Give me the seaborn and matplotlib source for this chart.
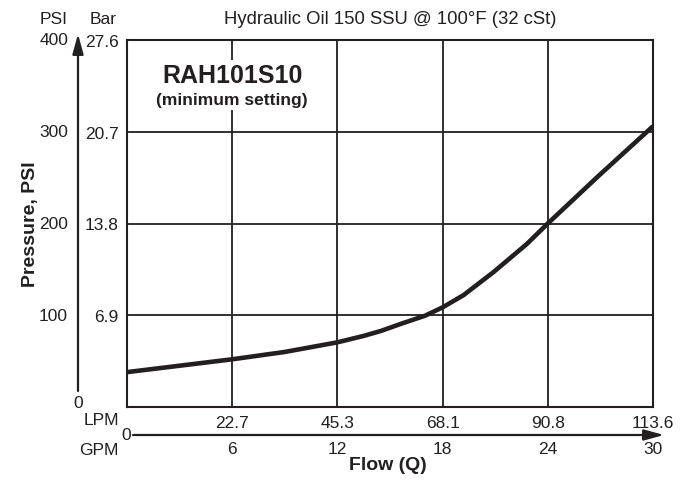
import matplotlib
matplotlib.use('Agg')
import matplotlib.pyplot as plt
import seaborn as sns
import pandas as pd

# ---- data ----
gpm = [0, 3, 6, 9, 12, 13.5, 14.5, 15.6, 17, 18, 19.2, 20.9, 22.8, 24, 26.9, 30]
psi = [38, 45, 52, 60, 70.5, 77.5, 83, 90.5, 99.5, 108.6, 122, 147, 177.6, 200, 252, 306]
gpm_ticks = [6, 12, 18, 24, 30]
gpm_labels = ['6', '12', '18', '24', '30']
lpm_labels = ['22.7', '45.3', '68.1', '90.8', '113.6']
psi_ticks = [100, 200, 300, 400]
psi_labels = ['100', '200', '300', '400']
bar_labels = ['6.9', '13.8', '20.7', '27.6']
title = 'Hydraulic Oil 150 SSU @ 100°F (32 cSt)'
model = 'RAH101S10'
subtitle = '(minimum setting)'

ink = '#231f20'

sns.set_theme(style='white')
plt.rcParams['font.family'] = ['Liberation Sans', 'DejaVu Sans']

W, H = 691, 481
fig = plt.figure(figsize=(W / 100, H / 100), dpi=100)
fig.patch.set_facecolor('white')


def fx(x):
    return x / W


def fy(y):
    return 1 - y / H


ax = fig.add_axes([fx(127), fy(408), (653 - 127) / W, (408 - 41) / H])
df = pd.DataFrame({'GPM': gpm, 'PSI': psi})
sns.lineplot(data=df, x='GPM', y='PSI', ax=ax, color=ink, lw=3.3,
             solid_capstyle='butt', solid_joinstyle='round', zorder=5)
ax.set_xlim(0, 30)
ax.set_ylim(0, 400)
ax.set_xticks(gpm_ticks, labels=lpm_labels)
ax.set_yticks(psi_ticks, labels=bar_labels)
ax.set_xlabel('')
ax.set_ylabel('')
ax.grid(True, color=ink, lw=1.3)
ax.set_axisbelow(True)
for s in ax.spines.values():
    s.set_visible(True)
    s.set_color(ink)
    s.set_linewidth(1.5)
ax.tick_params(length=0, labelsize=12.5, colors=ink)
ax.tick_params(axis='x', pad=6)
ax.tick_params(axis='y', pad=6)

# PSI labels left of the arrow
ytr = ax.get_yaxis_transform()
for v, lab in zip(psi_ticks, psi_labels):
    ax.text((68 - 127) / 526, v, lab, transform=ytr, ha='right', va='center',
            fontsize=12.5, color=ink, clip_on=False)

# GPM labels under the arrow
xtr = ax.get_xaxis_transform()
for v, lab in zip(gpm_ticks, gpm_labels):
    ax.text(v, -(450 - 408) / 367, lab, transform=xtr, ha='center', va='center',
            fontsize=12.5, color=ink, clip_on=False)

# headers and misc text
fig.text(fx(54), fy(20), 'PSI', ha='center', va='center', fontsize=12.5, color=ink)
fig.text(fx(103), fy(20), 'Bar', ha='center', va='center', fontsize=12.5, color=ink)
fig.text(fx(390), fy(19), title, ha='center', va='center', fontsize=13.3, color=ink)
fig.text(fx(78), fy(404), '0', ha='center', va='center', fontsize=12.5, color=ink)
fig.text(fx(119), fy(421), 'LPM', ha='right', va='center', fontsize=12.5, color=ink)
fig.text(fx(126), fy(436), '0', ha='center', va='center', fontsize=12.5, color=ink)
fig.text(fx(119), fy(451), 'GPM', ha='right', va='center', fontsize=12.5, color=ink)
fig.text(fx(388), fy(466), 'Flow (Q)', ha='center', va='center', fontsize=14,
         fontweight='bold', color=ink)
fig.text(fx(30), fy(224), 'Pressure, PSI', ha='center', va='center', fontsize=14,
         fontweight='bold', color=ink, rotation=90)

# model label with white background masking the grid
ax.text(6, (408 - 76) / 367 * 400, model, ha='center', va='center', fontsize=18,
        fontweight='bold', color=ink, zorder=6,
        bbox=dict(facecolor='white', edgecolor='none', pad=2))
ax.text(6, (408 - 101) / 367 * 400, subtitle, ha='center', va='center',
        fontsize=12.5, fontweight='bold', color=ink, zorder=6,
        bbox=dict(facecolor='white', edgecolor='none', pad=2))

# arrows
arrow_style = '-|>,head_length=1.2,head_width=0.33'
fig.add_artist(matplotlib.patches.FancyArrowPatch(
    (fx(78), fy(392)), (fx(78), fy(35)), transform=fig.transFigure,
    arrowstyle=arrow_style, mutation_scale=10, color=ink, lw=1.6,
    shrinkA=0, shrinkB=0))
fig.add_artist(matplotlib.patches.FancyArrowPatch(
    (fx(133), fy(436)), (fx(664), fy(436)), transform=fig.transFigure,
    arrowstyle=arrow_style, mutation_scale=10, color=ink, lw=1.6,
    shrinkA=0, shrinkB=0))

fig.savefig('out.png', dpi=100, facecolor='white')
